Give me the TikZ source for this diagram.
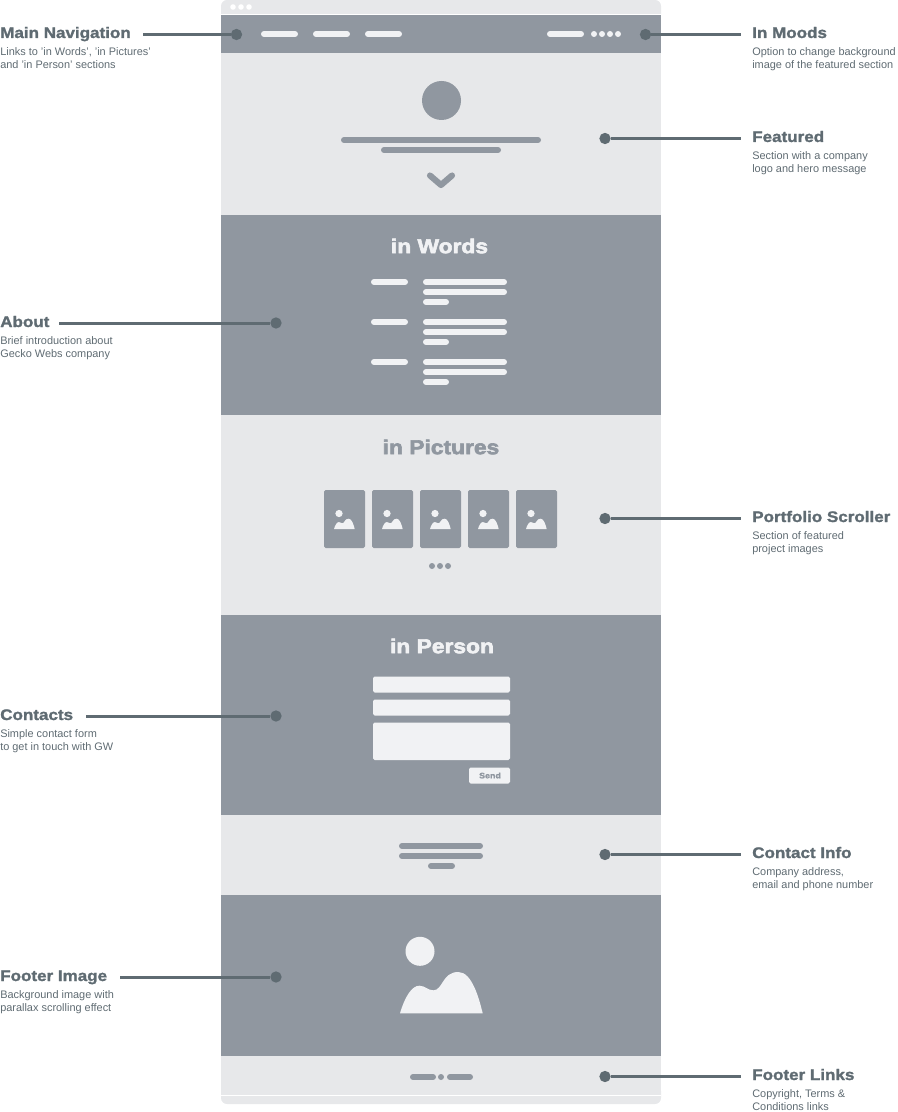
\documentclass[tikz,border=0pt]{standalone}
\usepackage{fontspec}
\setmainfont{Liberation Sans}
\newfontfamily\headfont[FakeStretch=1.11,FakeBold=1.5]{Liberation Sans Bold}
\newfontfamily\titlefont[FakeStretch=1.14,FakeBold=3]{Liberation Sans Bold}
\usepackage{xcolor}
\usetikzlibrary{calc}
\definecolor{wiredark}{HTML}{9097A0}
\definecolor{wirelight}{HTML}{E7E8EA}
\definecolor{wirewhite}{HTML}{F1F2F4}
\definecolor{calloutcol}{HTML}{5F6B72}
\tikzset{
  bar/.style={line width=4.5pt,line cap=round},
  lightbar/.style={bar,draw=wirewhite},
  darkbar/.style={bar,draw=wiredark},
  callout/.style={draw=calloutcol,line width=2.25pt},
  calloutdot/.style={circle,fill=calloutcol,inner sep=0pt,minimum size=8.5pt},
  heading/.style={anchor=base west,inner sep=0pt,text=calloutcol,font=\headfont\fontsize{11.5}{13}\selectfont},
  desc/.style={anchor=north west,inner sep=0pt,align=left,text=calloutcol,font=\fontsize{8.2}{9.75}\selectfont},
  title/.style={inner sep=0pt,font=\titlefont\fontsize{15}{18}\selectfont},
  field/.style={fill=wirewhite,rounded corners=1.2pt},
  pics/mountain/.style={code={
    \fill[wirewhite] (20,-62) circle[radius=14.5];
    \fill[wirewhite] (0,0) .. controls (5,-17) and (12,-27.6) .. (19.3,-27.6)
      .. controls (25,-27.6) and (28,-23) .. (33.3,-23)
      .. controls (43,-23) and (42,-41.3) .. (58.3,-41.3)
      .. controls (72,-41.3) and (79,-15) .. (82.7,0) -- cycle;
  }}
}
\begin{document}
\begin{tikzpicture}[x=0.75pt,y=-0.75pt]
  \useasboundingbox (0,0) rectangle (897,1112);

  % browser frame
  \fill[wirelight,rounded corners=4.5pt] (221,0) rectangle (661,20);
  \fill[wirelight,rounded corners=4.5pt] (221,1085) rectangle (661,1104);
  \fill[white] (221,14) rectangle (661,15);
  \fill[white] (221,1095) rectangle (661,1096);
  \foreach \x in {233,241,249}
    \fill[white] (\x,7) circle[radius=2.8];

  % sections
  \fill[wiredark] (221,15) rectangle (661,53);
  \fill[wirelight] (221,53) rectangle (661,215);
  \fill[wiredark] (221,215) rectangle (661,415);
  \fill[wirelight] (221,415) rectangle (661,615);
  \fill[wiredark] (221,615) rectangle (661,815);
  \fill[wirelight] (221,815) rectangle (661,895);
  \fill[wiredark] (221,895) rectangle (661,1056);
  \fill[wirelight] (221,1056) rectangle (661,1095);

  % navigation
  \foreach \x in {264,316,368,550}
    \draw[lightbar] (\x,34) -- ++(31,0);
  \foreach \x in {594,602,610,618}
    \fill[wirewhite] (\x,34) circle[radius=3];

  % featured
  \fill[wiredark] (441.5,100.5) circle[radius=19.5];
  \draw[darkbar] (344,140) -- (538,140);
  \draw[darkbar] (384,150) -- (498,150);
  \draw[wiredark,line width=4.6pt,line cap=round,line join=round] (430,175.5) -- (441,185) -- (452,175.5);

  % in Words
  \node[title,text=wirewhite] (wordstitle) at (439.5,246) {in Words};
  \foreach \y in {282,322,362} {
    \draw[lightbar] (374,\y) -- (405,\y);
    \draw[lightbar] (426,\y) -- (504,\y);
    \draw[lightbar] (426,\y+10) -- (504,\y+10);
    \draw[lightbar] (426,\y+20) -- (446,\y+20);
  }

  % in Pictures
  \node[title,text=wiredark] (picturestitle) at (441,447) {in Pictures};
  \foreach \x in {324,372,420,468,516} {
    \fill[wiredark,rounded corners=1.2pt] (\x,490) rectangle ++(41,58);
    \pic[scale=0.25] at (\x+10,529) {mountain};
  }
  \foreach \x in {432,440,448}
    \fill[wiredark] (\x,566) circle[radius=3];

  % in Person
  \node[title,text=wirewhite] (persontitle) at (442,646) {in Person};
  \fill[field] (373,676.5) rectangle (510,692.5);
  \fill[field] (373,699.5) rectangle (510,715.5);
  \fill[field] (373,722.5) rectangle (510,760);
  \fill[field] (469,767.5) rectangle (510,783.5);
  \node[inner sep=0pt,text=wiredark,font=\headfont\fontsize{6}{7}\selectfont] (sendlabel) at (490,775.5) {Send};

  % contact info
  \draw[darkbar] (402,846) -- (480,846);
  \draw[darkbar] (402,856) -- (480,856);
  \draw[darkbar] (431,866) -- (452,866);

  % footer
  \pic at (400,1013.3) {mountain};
  \draw[darkbar] (413,1077) -- (433,1077);
  \fill[wiredark] (441,1077) circle[radius=3];
  \draw[darkbar] (450,1077) -- (470,1077);

  % left callouts
  \node[heading] (navhead) at (0,38) {Main Navigation};
  \node[desc] (navtext) at (0,47) {Links to 'in Words', 'in Pictures'\\and 'in Person' sections};
  \node[calloutdot] (navdot) at (236.5,34.5) {};
  \coordinate (navend) at (143,34.5);
  \draw[callout] (navend) -- (navdot);

  \node[heading] (abouthead) at (0,327) {About};
  \node[desc] (abouttext) at (0,336) {Brief introduction about\\Gecko Webs company};
  \node[calloutdot] (aboutdot) at (276,323) {};
  \coordinate (aboutend) at (59,323);
  \draw[callout] (aboutend) -- (aboutdot);

  \node[heading] (contactshead) at (0,720) {Contacts};
  \node[desc] (contactstext) at (0,729) {Simple contact form\\to get in touch with GW};
  \node[calloutdot] (contactsdot) at (276,716) {};
  \coordinate (contactsend) at (86,716);
  \draw[callout] (contactsend) -- (contactsdot);

  \node[heading] (imagehead) at (0,981) {Footer Image};
  \node[desc] (imagetext) at (0,990) {Background image with\\parallax scrolling effect};
  \node[calloutdot] (imagedot) at (276,977) {};
  \coordinate (imageend) at (120,977);
  \draw[callout] (imageend) -- (imagedot);

  % right callouts
  \node[heading] (moodshead) at (752,38) {In Moods};
  \node[desc] (moodstext) at (752,47) {Option to change background\\image of the featured section};
  \node[calloutdot] (moodsdot) at (645.5,34.5) {};
  \coordinate (moodsend) at (741,34.5);
  \draw[callout] (moodsdot) -- (moodsend);

  \node[heading] (featuredhead) at (752,142) {Featured};
  \node[desc] (featuredtext) at (752,151) {Section with a company\\logo and hero message};
  \node[calloutdot] (featureddot) at (605,138.5) {};
  \coordinate (featuredend) at (741,138.5);
  \draw[callout] (featureddot) -- (featuredend);

  \node[heading] (scrollerhead) at (752,522) {Portfolio Scroller};
  \node[desc] (scrollertext) at (752,531) {Section of featured\\project images};
  \node[calloutdot] (scrollerdot) at (605,518.5) {};
  \coordinate (scrollerend) at (741,518.5);
  \draw[callout] (scrollerdot) -- (scrollerend);

  \node[heading] (infohead) at (752,858) {Contact Info};
  \node[desc] (infotext) at (752,867) {Company address,\\email and phone number};
  \node[calloutdot] (infodot) at (605,854.5) {};
  \coordinate (infoend) at (741,854.5);
  \draw[callout] (infodot) -- (infoend);

  \node[heading] (linkshead) at (752,1080) {Footer Links};
  \node[desc] (linkstext) at (752,1089) {Copyright, Terms \&\\Conditions links};
  \node[calloutdot] (linksdot) at (605,1076.5) {};
  \coordinate (linksend) at (741,1076.5);
  \draw[callout] (linksdot) -- (linksend);
\end{tikzpicture}
\end{document}
